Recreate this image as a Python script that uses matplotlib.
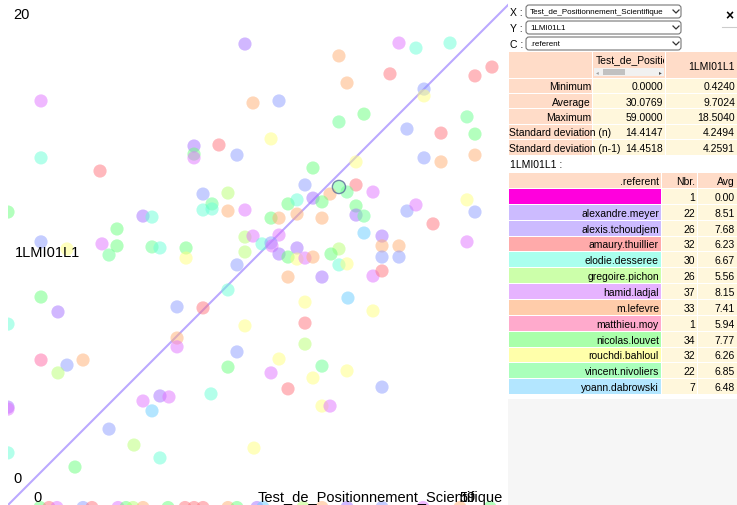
import matplotlib
matplotlib.use('Agg')
import matplotlib.pyplot as plt
from matplotlib.patches import Rectangle, FancyBboxPatch
from matplotlib.transforms import Bbox, TransformedBbox

plt.rcParams['font.family'] = ['Liberation Sans', 'DejaVu Sans']

W, H = 737, 506

# ---------------- data ----------------
x_name = 'Test_de_Positionnement_Scientifique'
y_name = '1LMI01L1'
c_name = '.referent'
x_min_lbl, x_max_lbl = '0', '59'
y_min_lbl, y_max_lbl = '0', '20'
x_lim = [0, 59]
y_lim = [0, 20]

referents = ['', 'alexandre.meyer', 'alexis.tchoudjem', 'amaury.thuillier',
             'elodie.desseree', 'gregoire.pichon', 'hamid.ladjal', 'm.lefevre',
             'matthieu.moy', 'nicolas.louvet', 'rouchdi.bahloul',
             'vincent.nivoliers', 'yoann.dabrowski']
ref_nbr = [1, 22, 26, 32, 30, 26, 37, 33, 1, 34, 32, 22, 7]
ref_avg = [0.00, 8.51, 7.68, 6.23, 6.67, 5.56, 8.15, 7.41, 5.94, 7.77, 6.26, 6.85, 6.48]

stat_names = ['Minimum', 'Average', 'Maximum', 'Standard deviation (n)',
              'Standard deviation (n-1)']
stat_x = [0.0000, 30.0769, 59.0000, 14.4147, 14.4518]
stat_y = [0.4240, 9.7024, 18.5040, 4.2494, 4.2591]

pt_x = [27.63, 3.85, 28.57, 3.85, 10.73, 21.69, 21.69, 21.69, 24.60, 26.70,
        0.00, 22.74, 25.65, 22.74, 23.79, 23.79, 25.65, 27.63, 15.74, 16.79,
        12.71, 27.63, 28.57, 3.85, 10.96, 12.71, 16.79, 17.72, 20.76, 6.88,
        11.78, 20.76, 26.70, 27.63, 3.85, 5.83, 0.00, 19.71, 22.74, 25.65,
        27.63, 3.85, 6.88, 5.83, 8.75, 19.71, 19.71, 26.70, 25.65, 0.00,
        0.00, 15.74, 17.72, 18.77, 16.79, 23.67, 11.78, 14.69, 17.72, 7.81,
        28.68, 0.00, 45.59, 47.57, 51.54, 38.59, 44.54, 54.45, 56.43, 39.53,
        31.60, 48.51, 48.51, 41.51, 38.59, 53.52, 30.67, 46.52, 50.49, 54.45,
        48.51, 50.49, 54.45, 40.58, 35.56, 34.63, 38.59, 40.58, 42.56, 37.55,
        35.56, 36.61, 39.53, 32.65, 33.70, 33.70, 30.67, 31.60, 36.61, 40.58,
        40.58, 41.51, 46.52, 47.57, 53.52, 54.45, 49.56, 41.51, 43.61, 53.52,
        31.60, 29.62, 30.67, 30.78, 33.70, 43.61, 45.59, 38.59, 31.60, 32.65,
        33.70, 34.63, 35.56, 37.66, 38.59, 39.53, 43.61, 45.59, 32.65, 36.61,
        42.56, 43.61, 34.63, 39.64, 42.56, 34.63, 34.63, 31.60, 30.67, 36.61,
        35.56, 39.53, 32.65, 43.61, 36.61, 37.55,
        3.73, 4.78, 5.71, 8.75, 9.79, 12.83, 13.76, 14.58, 15.74, 18.66,
        20.64, 21.69, 22.74, 25.65, 26.70, 29.03, 29.73, 34.40, 36.61, 39.53,
        43.61, 48.39, 52.70, 56.20]
pt_y = [18.22, 15.97, 15.89, 13.72, 13.20, 14.19, 13.87, 13.72, 14.23, 13.83,
        11.58, 12.29, 12.33, 11.66, 11.90, 11.70, 11.62, 11.66, 11.42, 11.38,
        10.91, 10.59, 10.63, 10.40, 10.32, 10.24, 10.20, 10.16, 10.16, 10.12,
        9.88, 9.76, 9.49, 10.00, 8.22, 7.63, 7.15, 7.83, 7.79, 8.50,
        7.08, 5.73, 5.53, 5.22, 5.73, 6.60, 6.25, 6.05, 5.45, 3.87,
        3.79, 4.11, 4.31, 4.27, 3.72, 4.39, 3.00, 2.37, 1.86, 1.50,
        2.25, 2.06, 18.26, 18.06, 18.26, 17.75, 17.04, 16.96, 17.31, 16.68,
        15.97, 16.44, 16.17, 15.45, 15.14, 15.34, 14.47, 14.86, 14.70, 14.66,
        13.72, 13.56, 13.83, 13.56, 13.32, 12.65, 12.57, 12.65, 12.37, 12.29,
        12.13, 11.98, 12.37, 11.90, 12.06, 11.50, 11.34, 11.34, 11.34, 11.82,
        11.46, 11.42, 11.62, 11.86, 12.06, 11.58, 11.11, 10.75, 10.63, 10.40,
        10.67, 10.32, 10.36, 10.24, 10.16, 10.24, 10.24, 10.12, 9.92, 9.80,
        9.72, 9.76, 9.80, 9.92, 9.49, 9.53, 9.80, 9.80, 9.01, 9.01,
        9.05, 9.25, 8.02, 8.18, 7.67, 7.19, 6.36, 5.77, 5.22, 5.49,
        5.02, 5.30, 4.59, 4.66, 3.91, 3.91,
        -0.1, -0.1, -0.1, -0.1, -0.1, -0.1, -0.1, -0.1, -0.1, -0.1,
        -0.1, -0.1, -0.1, -0.1, -0.1, -0.1, -0.1, -0.1, -0.1, -0.1,
        -0.1, -0.1, -0.1, -0.1]
pt_ref = [2, 6, 7, 4, 3, 2, 9, 6, 3, 1,
          9, 1, 5, 4, 11, 4, 7, 6, 2, 4,
          9, 5, 6, 1, 6, 9, 11, 4, 9, 10,
          11, 10, 1, 5, 9, 2, 4, 1, 3, 4,
          10, 8, 1, 5, 7, 7, 6, 1, 9, 2,
          6, 6, 2, 6, 12, 4, 1, 5, 4, 9,
          10, 4, 6, 4, 4, 7, 3, 3, 3, 7,
          1, 1, 10, 9, 11, 11, 10, 1, 3, 9,
          1, 7, 7, 10, 9, 1, 11, 3, 6, 7,
          2, 9, 11, 9, 4, 7, 9, 7, 7, 9,
          2, 11, 1, 6, 10, 1, 3, 12, 2, 6,
          6, 4, 1, 6, 2, 7, 7, 5, 2, 9,
          10, 6, 7, 9, 4, 10, 1, 1, 7, 2,
          6, 3, 10, 12, 10, 3, 5, 10, 6, 11,
          10, 10, 3, 1, 10, 6,
          9, 3, 6, 1, 3, 6, 9, 5, 7, 9,
          3, 3, 3, 7, 9, 2, 12, 5, 7, 2,
          1, 6, 7, 9]
selected_x = [38.59]
selected_y = [12.57]

# ---------------- styles ----------------
dot_colors = ['#ff00dd', '#8c9cff', '#a470ff', '#ff737d', '#69ffd7', '#b9ff73',
              '#e173ff', '#ffaf73', '#ff69a5', '#69ff7d', '#ffff7d', '#69ff91',
              '#69cdff']
row_colors = ['#ff00dd', '#ccbbff', '#ccbbff', '#ffaaaa', '#aaffee', '#ccffaa',
              '#e6b3ff', '#ffccaa', '#ffaacc', '#aaffaa', '#ffffaa', '#aaffbb',
              '#b3e6ff']
PEACH = '#ffdcc8'
CREAM = '#fff7dc'

fig = plt.figure(figsize=(W / 100, H / 100), dpi=100)
fig.patch.set_facecolor('white')


def fx(px):
    return px / W


def fy(py):
    return 1 - py / H


# ---------------- scatter ----------------
ax = fig.add_axes([fx(8), 0, 506 / W, 1])
ax.set_xlim(x_lim)
ax.set_ylim(y_lim)
ax.axis('off')
ax.plot(x_lim, y_lim, color='#a58cff', lw=1.5, alpha=0.75, zorder=1)
ax.scatter(pt_x, pt_y, s=90, c=[dot_colors[r] for r in pt_ref], alpha=0.5,
           linewidths=0, zorder=2)
ax.scatter(selected_x, selected_y, s=90, facecolors='none',
           edgecolors='#5a6a9a', linewidths=1.0, alpha=0.8, zorder=3)

tfs = 10.5
fig.text(fx(13), fy(15), y_max_lbl, fontsize=tfs, va='center', ha='left')
fig.text(fx(13), fy(479), y_min_lbl, fontsize=tfs, va='center', ha='left')
fig.text(fx(15), fy(253), y_name, fontsize=tfs, va='center', ha='left')
fig.text(fx(33), fy(498), x_min_lbl, fontsize=tfs, va='center', ha='left')
fig.text(fx(258), fy(498), x_name, fontsize=tfs, va='center', ha='left')
fig.text(fx(459), fy(498), x_max_lbl, fontsize=tfs, va='center', ha='left')

# ---------------- side panel ----------------
p = fig.add_axes([0, 0, 1, 1])
p.set_xlim(0, W)
p.set_ylim(H, 0)
p.axis('off')
p.set_zorder(10)
p.patch.set_alpha(0)


def clip_text(t, x0, y0, x1, y1):
    t.set_clip_on(True)
    t.set_clip_box(TransformedBbox(Bbox([[x0, y0], [x1, y1]]), p.transData))


p.add_patch(Rectangle((508, 0), W - 508, 400, facecolor='white', edgecolor='none'))
p.add_patch(Rectangle((508, 400), W - 508, H - 400, facecolor='#f6f6f6',
                      edgecolor='none'))

sfs = 7.5
# selectors
sel_labels = ['X :', 'Y :', 'C :']
sel_values = [x_name, y_name, c_name]
for i, (lab, val) in enumerate(zip(sel_labels, sel_values)):
    top = 6 + i * 16
    p.text(510, top + 6.5, lab, fontsize=sfs, va='center', ha='left')
    box = FancyBboxPatch((526, top), 155, 13, boxstyle='round,pad=0,rounding_size=3',
                         facecolor='white', edgecolor='#767676', lw=0.8)
    p.add_patch(box)
    t = p.text(530, top + 6.8, val, fontsize=5.8, va='center', ha='left')
    clip_text(t, 527, top, 669, top + 13)
    p.plot([673, 676, 679], [top + 5, top + 8, top + 5], color='#333333', lw=0.9)

p.text(729, 16, '×', fontsize=10, fontweight='bold', va='center', ha='center')
p.plot([722, 737], [27.5, 27.5], color='#cccccc', lw=0.8)

# stats table
p.add_patch(Rectangle((509, 53), 83, 26, facecolor=PEACH, edgecolor='none'))
p.add_patch(Rectangle((593, 53), 72, 26, facecolor=PEACH, edgecolor='none'))
p.add_patch(Rectangle((666, 53), 71, 26, facecolor=PEACH, edgecolor='none'))
th = p.text(596, 61, x_name, fontsize=sfs, va='center', ha='left')
clip_text(th, 593, 53, 664, 79)
p.text(735, 67, y_name, fontsize=sfs, va='center', ha='right')
# scrollbar
p.add_patch(Rectangle((594, 69), 70, 8, facecolor='#f1f1f1', edgecolor='none'))
p.add_patch(Rectangle((603, 70), 22, 6, facecolor='#c1c1c1', edgecolor='none'))
p.text(597.5, 73, '◂', fontsize=4, va='center', ha='center', color='#a0a0a0',
       family='DejaVu Sans')
p.text(660.5, 73, '▸', fontsize=4, va='center', ha='center', color='#505050',
       family='DejaVu Sans')

row_h = 15.4
row0 = 79.5
for i, name in enumerate(stat_names):
    top = row0 + i * row_h
    cy = top + row_h / 2
    p.add_patch(Rectangle((509, top), 83, row_h - 1, facecolor=PEACH, edgecolor='none'))
    p.add_patch(Rectangle((593, top), 72, row_h - 1, facecolor=CREAM, edgecolor='none'))
    p.add_patch(Rectangle((666, top), 71, row_h - 1, facecolor=CREAM, edgecolor='none'))
    if i >= 3:
        ha, xx = 'left', 509.5
    else:
        ha, xx = 'right', 591
    p.text(xx, cy, name, fontsize=sfs, va='center', ha=ha)
    p.text(663, cy, f'{stat_x[i]:.4f}', fontsize=sfs, va='center', ha='right')
    p.text(735, cy, f'{stat_y[i]:.4f}', fontsize=sfs, va='center', ha='right')

p.text(510, 165, y_name + ' :', fontsize=sfs, va='center', ha='left')

# referent table
htop = 174
p.add_patch(Rectangle((509, htop), 152, 15, facecolor=PEACH, edgecolor='none'))
p.add_patch(Rectangle((662, htop), 35, 15, facecolor=PEACH, edgecolor='none'))
p.add_patch(Rectangle((698, htop), 39, 15, facecolor=PEACH, edgecolor='none'))
p.text(659, htop + 7.5, c_name, fontsize=sfs, va='center', ha='right')
p.text(695, htop + 7.5, 'Nbr.', fontsize=sfs, va='center', ha='right')
p.text(735, htop + 7.5, 'Avg', fontsize=sfs, va='center', ha='right')

rh = 15.85
r0 = 190
for i, name in enumerate(referents):
    top = r0 + i * rh
    cy = top + rh / 2
    p.add_patch(Rectangle((509, top), 152, rh - 1, facecolor=row_colors[i],
                          edgecolor='none'))
    p.add_patch(Rectangle((662, top), 35, rh - 1, facecolor=CREAM, edgecolor='none'))
    p.add_patch(Rectangle((698, top), 39, rh - 1, facecolor=CREAM, edgecolor='none'))
    p.text(659, cy, name, fontsize=sfs, va='center', ha='right')
    p.text(695, cy, str(ref_nbr[i]), fontsize=sfs, va='center', ha='right')
    p.text(735, cy, f'{ref_avg[i]:.2f}', fontsize=sfs, va='center', ha='right')

fig.savefig('out.png', dpi=100)
